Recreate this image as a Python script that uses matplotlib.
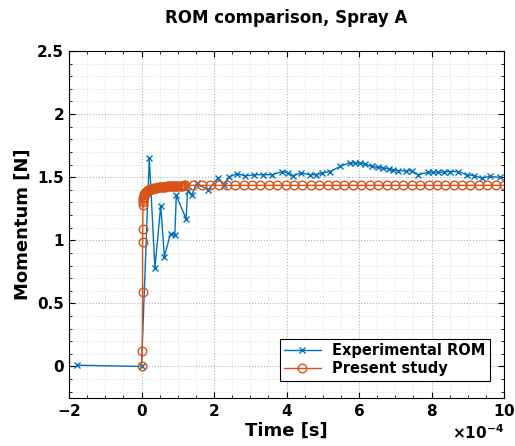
import numpy as np
import matplotlib
matplotlib.use("Agg")
import matplotlib.pyplot as plt
from matplotlib.ticker import ScalarFormatter, MultipleLocator, FuncFormatter

# time in units of 1e-4 s, momentum in N
exp_t = [-1.79, 0.0, 0.215, 0.37, 0.53, 0.63, 0.80, 0.92, 0.96, 1.23, 1.27, 1.38,
         1.52, 1.84, 2.10, 2.27, 2.40, 2.63, 2.86, 3.11, 3.36, 3.61, 3.88, 4.05,
         4.19, 4.40, 4.65, 4.80, 4.97, 5.20, 5.48, 5.75, 5.90, 6.03, 6.17, 6.35,
         6.53, 6.67, 6.82, 6.95, 7.08, 7.30, 7.45, 7.64, 7.91, 8.05, 8.19, 8.35,
         8.51, 8.74, 8.97, 9.17, 9.38, 9.61, 9.89]
exp_m = [0.01, 0.0, 1.65, 0.78, 1.275, 0.87, 1.05, 1.045, 1.355, 1.17, 1.39, 1.355,
         1.45, 1.40, 1.49, 1.44, 1.50, 1.527, 1.51, 1.519, 1.52, 1.519, 1.545, 1.532,
         1.51, 1.535, 1.519, 1.52, 1.532, 1.545, 1.585, 1.615, 1.61, 1.611, 1.604, 1.585,
         1.577, 1.572, 1.565, 1.559, 1.551, 1.55, 1.551, 1.519, 1.540, 1.54, 1.540, 1.54,
         1.545, 1.545, 1.519, 1.513, 1.493, 1.506, 1.498]

sim_t = [0.0, 0.02, 0.03, 0.03, 0.035, 0.04, 0.045, 0.05, 0.055, 0.06, 0.07, 0.08,
         0.09, 0.10, 0.12, 0.14, 0.16, 0.18, 0.20, 0.22, 0.24, 0.26, 0.28, 0.30,
         0.33, 0.36, 0.39, 0.42, 0.45, 0.48, 0.51, 0.54, 0.57, 0.60, 0.63, 0.66,
         0.69, 0.72, 0.75, 0.78, 0.81, 0.84, 0.87, 0.90, 0.93, 0.96, 0.99, 1.02,
         1.05, 1.08, 1.11, 1.14, 1.17, 1.20,
         1.43, 1.66, 1.89, 2.13, 2.36, 2.59, 2.82, 3.05, 3.28, 3.52, 3.75, 3.98,
         4.21, 4.44, 4.67, 4.91, 5.14, 5.37, 5.60, 5.83, 6.06, 6.29, 6.53, 6.76,
         6.99, 7.22, 7.45, 7.68, 7.92, 8.15, 8.38, 8.61, 8.84, 9.07, 9.31, 9.54,
         9.77, 10.00]
sim_m = [0.0, 0.12, 0.59, 0.99, 1.09, 1.28, 1.30, 1.32, 1.335, 1.345, 1.355, 1.363,
         1.37, 1.375, 1.382, 1.388, 1.392, 1.396, 1.399, 1.402, 1.404, 1.406, 1.408, 1.41,
         1.412, 1.414, 1.416, 1.417, 1.419, 1.42, 1.421, 1.422, 1.423, 1.424, 1.425, 1.426,
         1.427, 1.427, 1.428, 1.429, 1.429, 1.43, 1.43, 1.431, 1.431, 1.432, 1.432, 1.433,
         1.433, 1.434, 1.434, 1.434, 1.435, 1.435,
         1.435, 1.435, 1.435, 1.435, 1.435, 1.435, 1.435, 1.435, 1.435, 1.435, 1.435, 1.435,
         1.435, 1.435, 1.435, 1.435, 1.435, 1.435, 1.435, 1.435, 1.435, 1.435, 1.435, 1.435,
         1.435, 1.435, 1.435, 1.435, 1.435, 1.435, 1.435, 1.435, 1.435, 1.435, 1.435, 1.435,
         1.435, 1.435]

plt.rcParams['font.family'] = 'DejaVu Sans'
plt.rcParams['font.weight'] = 'bold'
plt.rcParams['axes.unicode_minus'] = False

fig = plt.figure(figsize=(5.15, 4.46), dpi=100)
ax = fig.add_axes([69/515, 1 - 398/446, 435/515, 347/446])

ax.plot(np.array(exp_t) * 1e-4, exp_m, color='#0072BD', marker='x', markersize=5,
        linewidth=1, label='Experimental ROM')
ax.plot(np.array(sim_t) * 1e-4, sim_m, color='#D95319', marker='o', markersize=6.2,
        markerfacecolor='none', markeredgewidth=1, linewidth=1, label='Present study')

ax.set_xlim(-2e-4, 10e-4)
ax.set_ylim(-0.25, 2.5)
ax.xaxis.set_major_locator(MultipleLocator(2e-4))
ax.xaxis.set_minor_locator(MultipleLocator(0.5e-4))
ax.yaxis.set_major_locator(MultipleLocator(0.5))
ax.yaxis.set_minor_locator(MultipleLocator(0.1))
ax.yaxis.set_major_formatter(FuncFormatter(lambda v, p: f'{v:g}'))

fmt = ScalarFormatter(useMathText=True)
fmt.set_powerlimits((-4, -4))
ax.xaxis.set_major_formatter(fmt)
ax.xaxis.get_offset_text().set_fontsize(11)

ax.grid(which='major', linestyle=':', color='#b0b0b0', linewidth=0.8)
ax.grid(which='minor', linestyle=':', color='#d8d8d8', linewidth=0.6)
ax.tick_params(which='both', direction='in', top=True, right=True, labelsize=11)
ax.tick_params(which='major', length=4)
ax.tick_params(which='minor', length=2)
for s in ax.spines.values():
    s.set_linewidth(0.8)

ax.set_xlabel('Time [s]', fontsize=13, fontweight='bold', labelpad=2)
ax.set_ylabel('Momentum [N]', fontsize=13, fontweight='bold')
ax.set_title('ROM comparison, Spray A', fontsize=12, fontweight='bold', pad=20)

leg = ax.legend(loc='lower right', bbox_to_anchor=(0.968, 0.05), fontsize=10.5,
                fancybox=False, framealpha=1, edgecolor='black', borderaxespad=0,
                handlelength=2.5, borderpad=0.3, labelspacing=0.2)
leg.get_frame().set_linewidth(0.8)

fig.savefig('out.png', dpi=100)
